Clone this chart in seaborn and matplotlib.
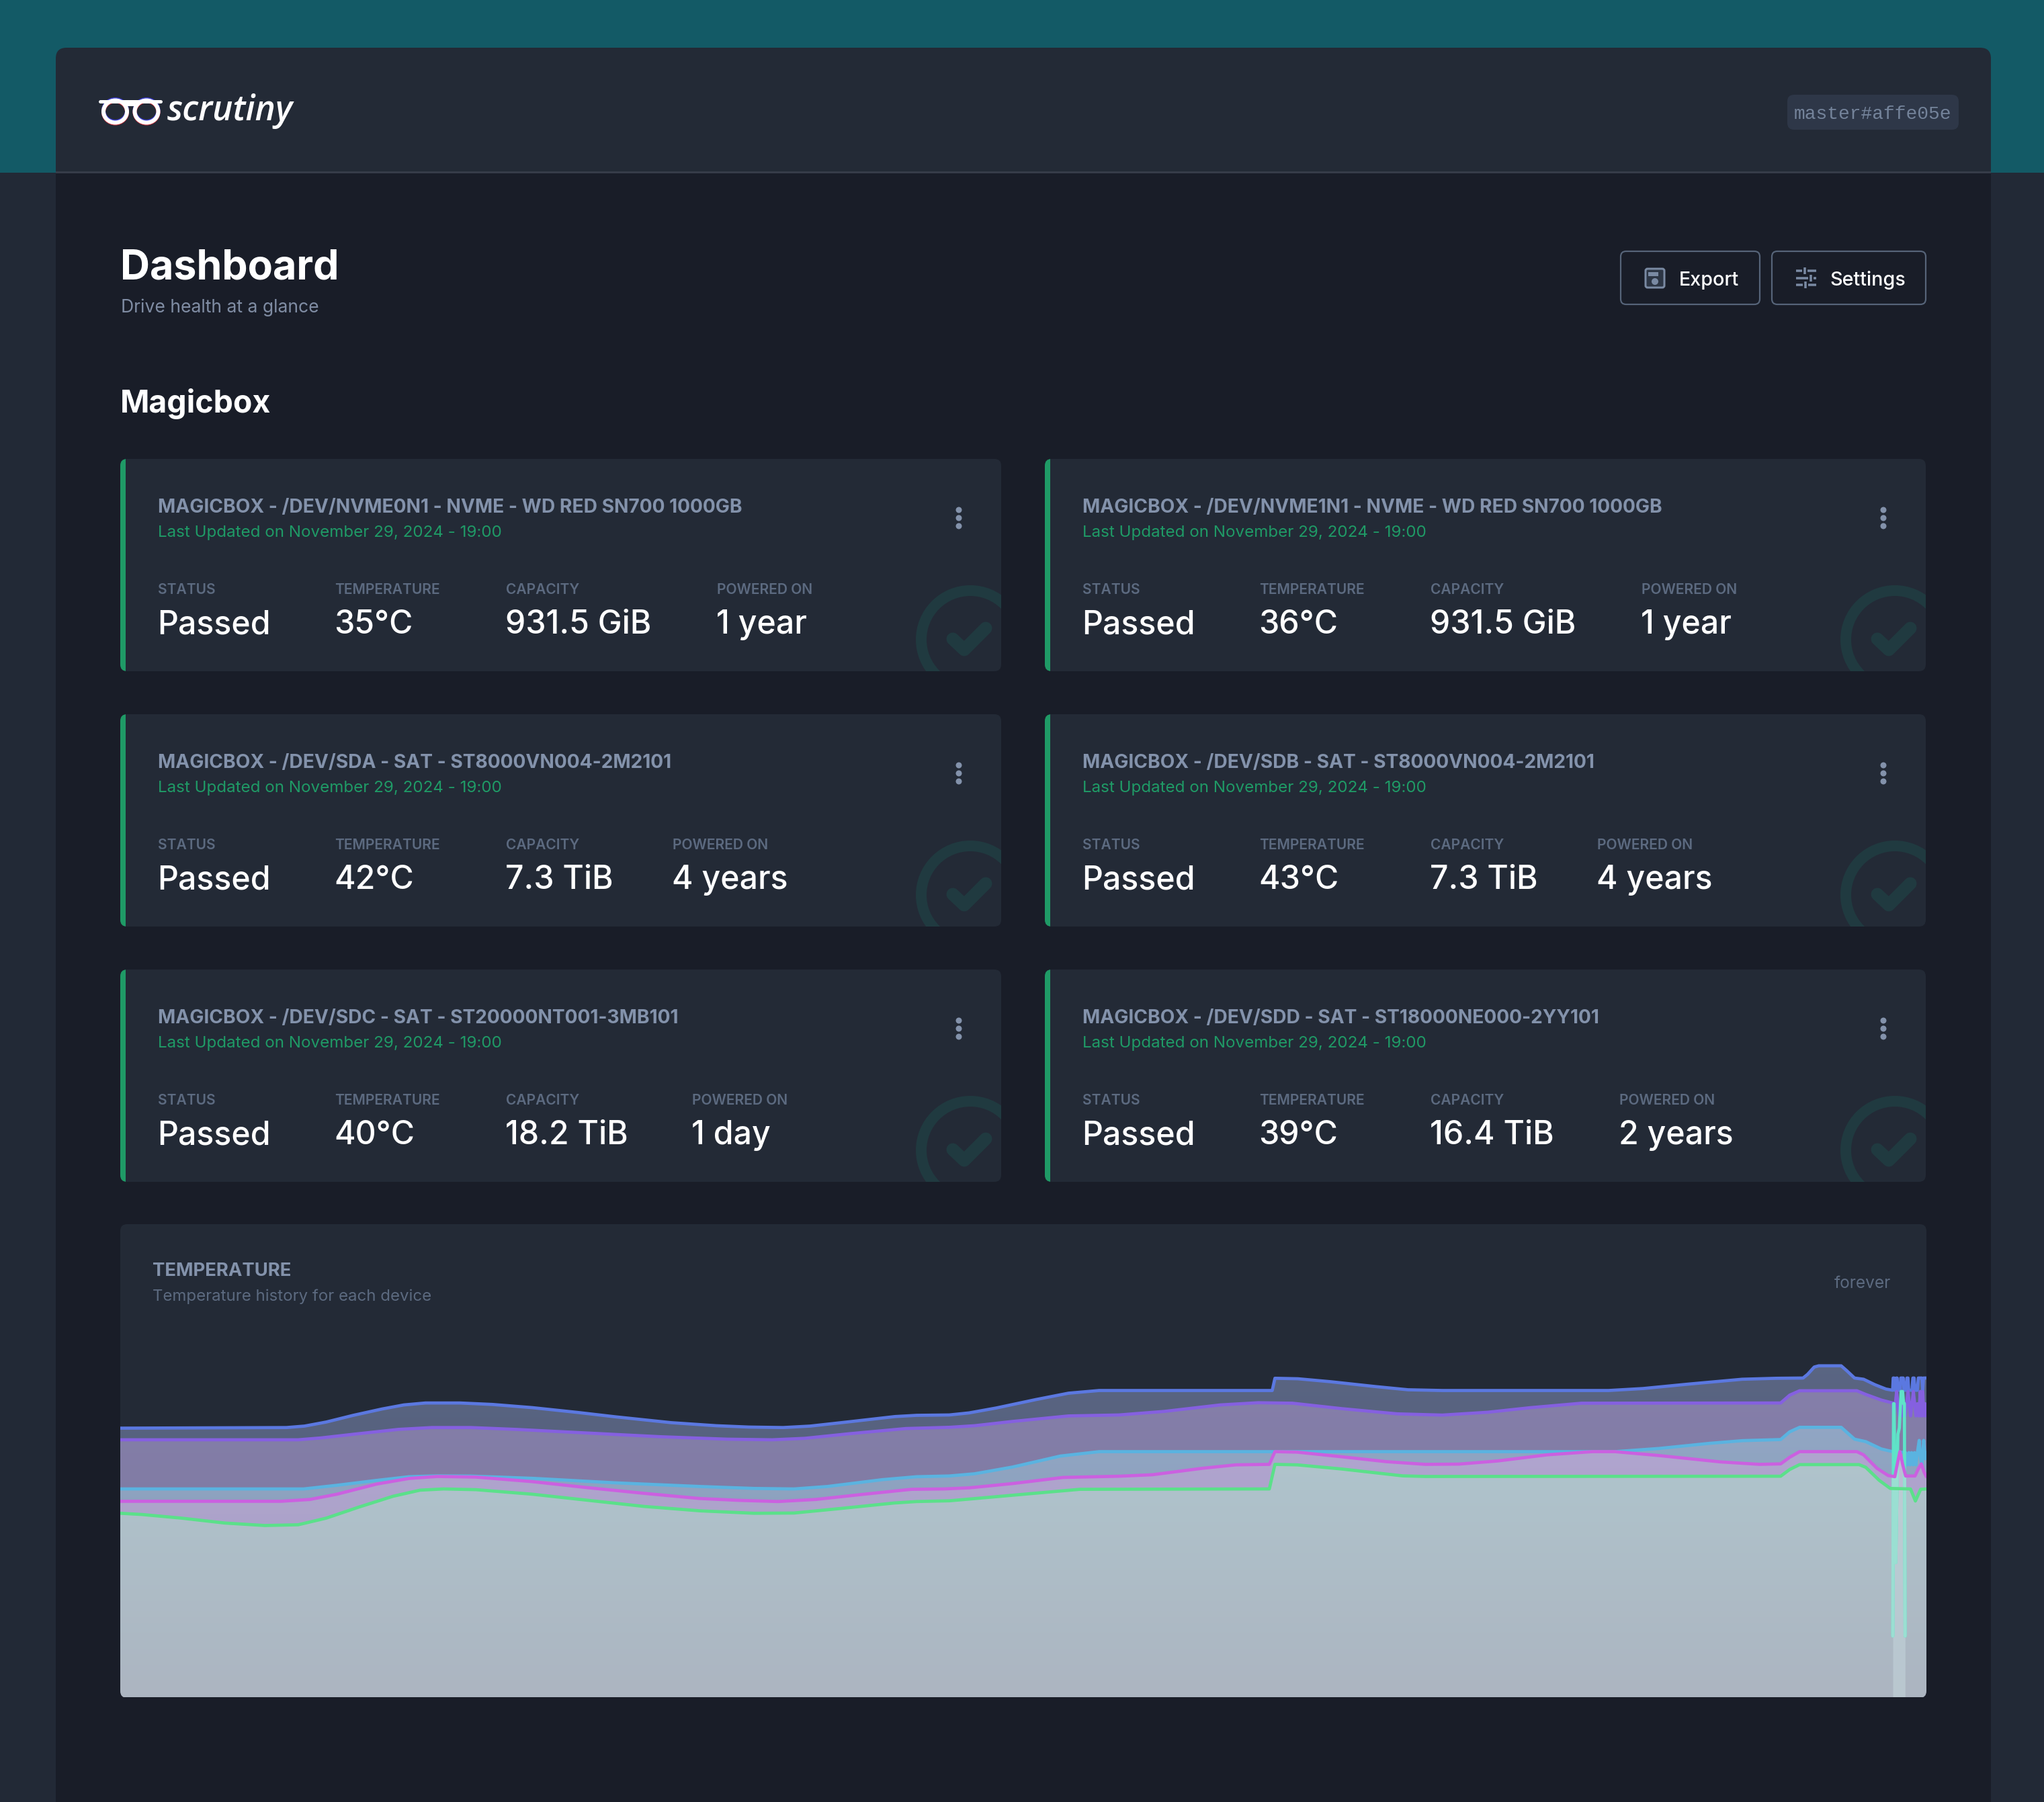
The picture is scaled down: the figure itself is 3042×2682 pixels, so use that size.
import matplotlib

matplotlib.use("Agg")
import matplotlib.pyplot as plt
import numpy as np
import seaborn as sns
from matplotlib.colors import to_rgb
from matplotlib.patches import Circle, Ellipse, FancyBboxPatch, PathPatch, Rectangle
from matplotlib.path import Path

W, H = 3042, 2682

# card data
DEVICES = [
    "MAGICBOX - /DEV/NVME0N1 - NVME - WD RED SN700 1000GB",
    "MAGICBOX - /DEV/NVME1N1 - NVME - WD RED SN700 1000GB",
    "MAGICBOX - /DEV/SDA - SAT - ST8000VN004-2M2101",
    "MAGICBOX - /DEV/SDB - SAT - ST8000VN004-2M2101",
    "MAGICBOX - /DEV/SDC - SAT - ST20000NT001-3MB101",
    "MAGICBOX - /DEV/SDD - SAT - ST18000NE000-2YY101",
]
TEMPERATURES = ["35°C", "36°C", "42°C", "43°C", "40°C", "39°C"]
CAPACITIES = ["931.5 GiB", "931.5 GiB", "7.3 TiB", "7.3 TiB", "18.2 TiB", "16.4 TiB"]
POWERED_ON = ["1 year", "1 year", "4 years", "4 years", "1 day", "2 years"]
LAST_UPDATED = "Last Updated on November 29, 2024 - 19:00"
STAT_LABELS = ["STATUS", "TEMPERATURE", "CAPACITY", "POWERED ON"]

# temperature history, x is percent of the time range, y is deg C above an arbitrary floor of 20
blue_t = [0, 9.2, 10.2, 11.4, 12.9, 14.5, 15.7, 16.9, 18.8, 20.6, 22.8, 25.3, 27.4, 30.5, 33, 34.8, 36.7, 38.2,
          40.4, 42.9, 44.1, 45.9, 47, 48.5, 50.7, 52.5, 54.2, 63.78, 63.93, 65.2, 67, 69.5, 71.3, 73.2, 82.4,
          84.3, 86.8, 89.8, 91.7, 93.17, 93.42, 93.79, 94.04, 95.28, 95.59, 96.02, 96.52, 97.14, 97.76, 98.13,
          98.16, 98.21, 98.25, 98.3, 98.34, 98.38, 98.42, 98.55, 98.58, 98.72, 98.76, 98.88, 98.92, 98.98, 99.02,
          99.2, 99.25, 99.32, 99.37, 99.5, 99.55, 99.75, 99.8, 99.84, 100]
blue_v = [42, 42.05, 42.17, 42.5, 43.05, 43.57, 43.9, 44.06, 44.06, 43.94, 43.68, 43.29, 42.93, 42.45, 42.2, 42.09,
          42.05, 42.17, 42.53, 42.95, 43.05, 43.08, 43.25, 43.65, 44.34, 44.86, 45.08, 45.08, 46.08, 46.04, 45.8,
          45.4, 45.14, 45.08, 45.08, 45.24, 45.6, 46, 46.08, 46.1, 46.4, 47, 47.1, 47.1, 46.7, 46.1, 46, 45.56,
          45.2, 45.1, 46.1, 46.1, 45.1, 45.1, 46.1, 46.1, 45.1, 45.1, 46.1, 46.1, 45.1, 45.1, 46.1, 46.1, 45.1,
          45.1, 46.1, 46.1, 45.1, 45.1, 46.1, 46.1, 45.1, 46.1, 46.1]

purple_t = [0, 9.85, 11.1, 12.9, 15.4, 17.25, 19.4, 21.9, 25.9, 29.9, 33.6, 36.1, 37.9, 40.4, 43.5, 45.9, 47.3, 49.4,
            52.5, 55.3, 57.8, 60.9, 63, 64.9, 67.6, 70.7, 73.2, 75.7, 78.1, 80.9, 91.93, 92.43, 92.98, 96.15, 96.64,
            97.5, 98.13, 98.2, 98.28, 98.35, 98.42, 98.5, 98.58, 98.66, 98.74, 98.82, 98.9, 98.98, 99.05, 99.12,
            99.2, 99.28, 99.35, 99.42, 99.5, 99.58, 99.66, 99.72, 99.8, 99.86, 99.93, 100]
purple_v = [41.05, 41.05, 41.2, 41.5, 41.9, 42.05, 42.05, 41.9, 41.6, 41.3, 41.1, 41.05, 41.17, 41.55, 41.97, 42.07,
            42.2, 42.55, 43, 43.08, 43.37, 43.9, 44.08, 44.04, 43.6, 43.17, 43.07, 43.3, 43.68, 44.04, 44.06, 44.7,
            45.06, 45.06, 44.76, 44.3, 44.06, 43, 44, 45, 44, 43, 44, 43, 44, 43, 44, 45, 44, 43, 44, 45, 44, 43,
            44, 43, 45, 43, 45, 43, 44, 43]

cyan_t = [0, 10.15, 12, 14.2, 16, 17.56, 19.4, 22.8, 27.4, 32.1, 35.1, 37.3, 39.15, 42.2, 44.1, 45.9, 47.3, 49.4,
          52.05, 54.2, 82.75, 85.2, 88, 89.84, 91.93, 92.43, 92.98, 95.28, 96.02, 96.64, 97.5, 98.13, 98.85, 98.95,
          99.03, 99.1, 99.18, 99.26, 99.34, 99.42, 99.5, 99.6, 99.68, 99.75, 99.85, 99.93, 100]
cyan_v = [37.03, 37.03, 37.33, 37.73, 38.03, 38.1, 38.08, 37.9, 37.53, 37.23, 37.07, 37.03, 37.23, 37.79, 38.03,
          38.09, 38.27, 38.82, 39.72, 40.08, 40.08, 40.34, 40.76, 40.98, 41.07, 41.7, 42.07, 42.07, 41.1, 40.9,
          40.3, 40.08, 40, 39, 40, 39, 40, 39, 40, 39, 40, 41, 39.5, 39, 41, 39.5, 40]

magenta_t = [0, 8.9, 10.5, 12, 14.2, 16, 17.56, 19.7, 22.8, 25.9, 29, 32.06, 34.2, 36.4, 38.5, 41, 43.8, 45.6, 47,
             49.4, 52.2, 55.3, 57.14, 59.92, 61.77, 63.62, 63.93, 65.16, 67.63, 70.1, 72.26, 74.11, 76.27, 79, 81.5,
             82.75, 85.2, 88.6, 90.77, 91.93, 92.43, 92.98, 96.15, 96.52, 97.26, 97.88, 98.25, 98.38, 98.53, 98.69,
             98.85, 99.37, 99.56, 99.72, 99.87, 100]
magenta_v = [36.02, 36.02, 36.17, 36.6, 37.43, 37.89, 38.05, 38, 37.63, 37.13, 36.67, 36.25, 36.1, 36, 36.17, 36.57,
             37, 37.03, 37.12, 37.47, 37.97, 38.07, 38.19, 38.72, 39, 39.04, 40.08, 40.04, 39.66, 39.26, 39.04, 39.06,
             39.32, 39.82, 40.08, 40.08, 39.76, 39.24, 39.04, 39.08, 39.62, 40.08, 40.08, 39.82, 38.72, 38.13, 38.03,
             39, 40.08, 39, 38.09, 38.09, 38.7, 39.08, 38.4, 38.03]

green_t = [0, 1.2, 3.4, 5.8, 8, 9.85, 11.4, 13.2, 15.1, 16.6, 17.9, 19.7, 22.8, 25.9, 29, 32.1, 35.1, 37.3, 39.8,
           42.85, 44.1, 45.9, 47.3, 50.05, 53.13, 63.62, 63.93, 65.16, 67.63, 71, 72.26, 91.93, 92.43, 92.98, 96.27,
           96.64, 97.39, 98, 99.12, 99.39, 99.68, 100]
green_v = [35.04, 34.94, 34.64, 34.24, 34.04, 34.1, 34.64, 35.54, 36.43, 36.93, 37.03, 36.97, 36.6, 36.1, 35.6, 35.24,
           35.04, 35.06, 35.42, 35.88, 36, 36.06, 36.24, 36.6, 37, 37.03, 39.04, 39, 38.66, 38.1, 38.05, 38.07, 38.62,
           39.02, 39.02, 38.8, 37.73, 37.07, 37.03, 36.04, 37, 37.03]

teal_t = [98.14, 98.18, 98.21, 98.3, 98.42, 98.5, 98.6, 98.68, 98.74, 98.78, 98.82]
teal_v = [25, 44, 44, 31, 41.5, 42, 45, 45, 44, 44, 25]

sns.set_theme(style="dark")
plt.rcParams["font.family"] = ["Inter", "DejaVu Sans"]
plt.rcParams["lines.solid_joinstyle"] = "round"
plt.rcParams["lines.solid_capstyle"] = "round"

TEAL_BG = "#135a66"
SIDE_BG = "#222936"
PANEL = "#232a36"
DARK = "#191d28"
TITLE = "#8392ab"
MUTED = "#5c6a80"
GREEN = "#1f9a66"
ICON = "#7a8aa3"


def px(n):
    return n * 0.72


def text(ax, x, y, s, size, color="white", weight="normal", **kw):
    ax.text(x, y, s, fontsize=px(size), color=color, fontweight=weight, va="baseline", **kw)


def rounded(ax, x0, y0, x1, y1, r, **kw):
    patch = FancyBboxPatch((x0, y0), x1 - x0, y1 - y0, boxstyle=f"round,pad=0,rounding_size={r}", **kw)
    ax.add_patch(patch)
    return patch


def draw_chrome(ax):
    ax.add_patch(Rectangle((0, 0), W, 257, color=TEAL_BG, lw=0))
    ax.add_patch(Rectangle((0, 257), W, H, color=SIDE_BG, lw=0))
    rounded(ax, 83, 71, 2963, 300, 16, color=PANEL, lw=0)
    ax.add_patch(Rectangle((83, 256), 2880, H, color=DARK, lw=0))
    ax.add_patch(Rectangle((83, 255), 2880, 2.5, color="#363c49", lw=0))

    # logo
    for cx in (171.5, 218):
        ax.add_patch(Ellipse((cx, 164.5), 35, 33, fc="none", ec="#3d3fd0", lw=px(6)))
        ax.add_patch(Ellipse((cx, 167), 35, 33, fc="none", ec="#d0303c", lw=px(6)))
        ax.add_patch(Ellipse((cx, 166), 35, 33, fc="none", ec="white", lw=px(6)))
    ax.plot([149, 239], [151, 151], color="white", lw=px(5))
    ax.plot([188, 201], [156, 156], color="white", lw=px(4))
    text(ax, 249, 179, "scrutiny", 51.5, weight=600, style="italic", family="Open Sans")

    # version tag
    rounded(ax, 2660, 141, 2915, 193, 10, color="#2e3748", lw=0)
    text(ax, 2670, 177, "master#affe05e", 28, color="#74839a", family="Liberation Mono")

    text(ax, 179, 415, "Dashboard", 61, weight="bold")
    text(ax, 180, 464.5, "Drive health at a glance", 26.5, color="#7f8ca3")
    text(ax, 179, 613.5, "Magicbox", 46.5, weight="bold")

    # buttons
    for x0, x1 in ((2412, 2619), (2637, 2866)):
        rounded(ax, x0, 374, x1, 453, 8, fc=DARK, ec="#566479", lw=px(2.2))
    text(ax, 2499, 425, "Export", 28.7, weight=500)
    text(ax, 2723, 425, "Settings", 28.7, weight=500)

    rounded(ax, 2449, 400, 2477, 428, 3, fc="#2d3645", ec=ICON, lw=px(3))
    ax.add_patch(Rectangle((2453, 405), 15, 6, color=ICON, lw=0))
    ax.add_patch(Circle((2463, 419), 5, color=ICON, lw=0))
    for y, kx in ((403, 2686), (414, 2695), (424, 2687)):
        ax.plot([2673, kx - 4], [y, y], color=ICON, lw=px(3.5), solid_capstyle="butt")
        ax.plot([kx + 4, 2703], [y, y], color=ICON, lw=px(3.5), solid_capstyle="butt")
        ax.plot([kx, kx], [y - 5, y + 5], color=ICON, lw=px(3.5), solid_capstyle="butt")


def draw_card(ax, x0, y0, idx, powered_x):
    card = rounded(ax, x0, y0, x0 + 1311, y0 + 316, 10, color=PANEL, lw=0)
    bar = Rectangle((x0, y0), 8, 316, color=GREEN, lw=0)
    ax.add_patch(bar)
    bar.set_clip_path(card)

    ring = Circle((x0 + 1265, y0 + 269), 73, fc="none", ec="#203a40", lw=px(16))
    ax.add_patch(ring)
    ring.set_clip_path(card)
    line, = ax.plot([x0 + 1239, x0 + 1256, x0 + 1288], [y0 + 268, y0 + 284, y0 + 252], color="#203a40", lw=px(19))
    line.set_clip_path(card)

    tx = x0 + 56
    text(ax, tx, y0 + 80, DEVICES[idx], 28.15, color=TITLE, weight="bold")
    text(ax, tx, y0 + 116, LAST_UPDATED, 24.15, color=GREEN)

    xs = [tx, x0 + 319, x0 + 574, x0 + powered_x]
    values = ["Passed", TEMPERATURES[idx], CAPACITIES[idx], POWERED_ON[idx]]
    for x, label, value in zip(xs, STAT_LABELS, values):
        text(ax, x, y0 + 201, label, 21, color=MUTED, weight=600)
        text(ax, x - 1, y0 + 260, value, 48.2, weight=500)

    for dy in (76, 88, 100):
        ax.add_patch(Circle((x0 + 1248, y0 + dy), 4.5, color=TITLE, lw=0))


def gradient_fill(ax, t, v, top, bottom, z):
    poly = ax.fill_between(t, v, 20, color="none", lw=0)
    path = poly.get_paths()[0]
    c0, c1 = np.array(to_rgb(top)), np.array(to_rgb(bottom))
    img = np.linspace(c0, c1, 256)[:, None, :]
    im = ax.imshow(img, extent=(0, 100, 20, 50), aspect="auto", origin="upper", interpolation="bilinear", zorder=z)
    im.set_clip_path(path, ax.transData)
    return path


def series_line(ax, t, v, color, z, clip=None):
    sns.lineplot(x=t, y=v, color=color, lw=3.4, estimator=None, sort=False, ax=ax, legend=False, zorder=z)
    if clip is not None:
        ax.lines[-1].set_clip_path(clip, ax.transData)


def draw_history(ax):
    layers = [
        (blue_t, blue_v, "#5c6785", "#4a5670", "#5b78e0"),
        (purple_t, purple_v, "#8880ad", "#77779a", "#8560e0"),
        (cyan_t, cyan_v, "#96acca", "#8496b2", "#5ab3e0"),
    ]
    z = 2
    for t, v, top_c, bottom_c, color in layers:
        gradient_fill(ax, t, v, top_c, bottom_c, z)
        series_line(ax, t, v, color, z + 1)
        z += 2

    mag_path = gradient_fill(ax, magenta_t, magenta_v, "#b6a7d8", "#a49fbd", z)
    z += 1
    gradient_fill(ax, green_t, green_v, "#b1ccd2", "#acb5c1", z)
    z += 1

    # recent device only has the last few samples
    column = ax.fill_between(teal_t, teal_v, 20, color="#c4d6dc", alpha=0.55, lw=0, zorder=z)
    column.set_clip_path(mag_path, ax.transData)
    z += 1
    series_line(ax, teal_t, teal_v, "#5fe3c8", z)
    series_line(ax, teal_t, teal_v, "#9adfd2", z + 1, clip=mag_path)
    series_line(ax, magenta_t, magenta_v, "#cb60e0", z + 2)
    series_line(ax, green_t, green_v, "#5be08a", z + 3)

    ax.set_xlim(0, 100)
    ax.set_ylim(20, 50)
    ax.patch.set_alpha(0)
    ax.axis("off")


def draw_corners(ax):
    r = 10
    for cx, sx in ((179, 1), (2867, -1)):
        verts = [(cx, 2527), (cx + sx * r, 2527), (cx, 2527), (cx, 2527 - r), (cx, 2527)]
        codes = [Path.MOVETO, Path.LINETO, Path.CURVE3, Path.CURVE3, Path.CLOSEPOLY]
        ax.add_patch(PathPatch(Path(verts, codes), color=DARK, lw=0))


fig = plt.figure(figsize=(W / 100, H / 100), dpi=100, facecolor=DARK)

bg = fig.add_axes([0, 0, 1, 1], zorder=0)
bg.set_xlim(0, W)
bg.set_ylim(H, 0)
bg.axis("off")
draw_chrome(bg)

powered_offsets = [888, 888, 822, 822, 851, 855]
for i, off in enumerate(powered_offsets):
    x0 = 179 if i % 2 == 0 else 1555
    y0 = 683 + 380 * (i // 2)
    draw_card(bg, x0, y0, i, off)

rounded(bg, 179, 1822, 2867, 2526, 10, color=PANEL, lw=0)
text(bg, 227, 1899, "TEMPERATURE", 27.5, color=TITLE, weight="bold")
text(bg, 227, 1936, "Temperature history for each device", 24, color=MUTED)
text(bg, 2730, 1917, "forever", 24.5, color=MUTED)

chart = fig.add_axes([179 / W, (H - 2526) / H, 2688 / W, 546 / H], zorder=1)
draw_history(chart)

top = fig.add_axes([0, 0, 1, 1], zorder=2)
top.set_xlim(0, W)
top.set_ylim(H, 0)
top.axis("off")
top.patch.set_alpha(0)
draw_corners(top)

fig.savefig("out.png", dpi=100, facecolor=fig.get_facecolor())
